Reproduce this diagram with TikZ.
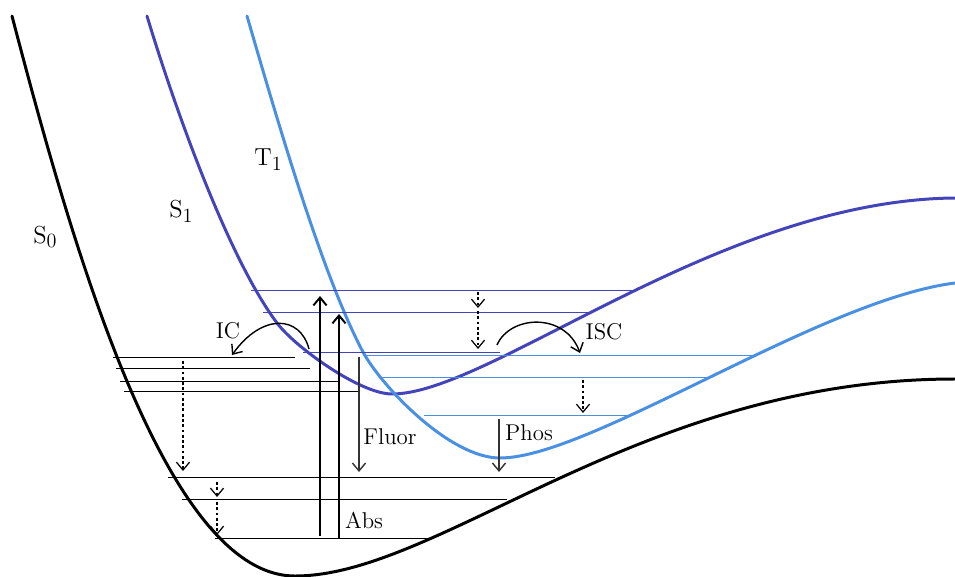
\documentclass[tikz,border=0pt]{standalone}
\usepackage{tikz}
\usetikzlibrary{arrows.meta}

\definecolor{singletblue}{RGB}{68,68,186}
\definecolor{tripletblue}{RGB}{74,144,226}

\newcommand{\statelab}[2]{#1\raisebox{-0.45ex}{\fontsize{11.5}{12}\selectfont #2}}

\begin{document}
\begin{tikzpicture}[
  x=0.02cm, y=-0.02cm,
  pes/.style={line width=1.7pt, line cap=round},
  lvl/.style={line width=0.5pt},
  arr/.style={-{Straight Barb[length=4.5pt, width=7.5pt]}},
  absarr/.style={arr, line width=1.1pt},
  emarr/.style={arr, line width=0.8pt, black!80},
  relax/.style={arr, line width=0.7pt, dash pattern=on 1.6pt off 1.4pt},
  lab/.style={font=\fontsize{13}{15}\selectfont, inner sep=1pt},
  statelabel/.style={font=\fontsize{14}{16}\selectfont, inner sep=1pt},
]
  \useasboundingbox (0,0) rectangle (955,577);

  % potential energy curves
  \draw[pes, black] (12,16) .. controls (72,245) and (165,576) .. (295,576)
    .. controls (440,576) and (640,379) .. (955,379);
  \draw[pes, singletblue] (147,16) .. controls (176,112) and (229,259) .. (277,323)
    .. controls (295,347) and (360,394) .. (392,394)
    .. controls (490,394) and (720,200) .. (955,198);
  \draw[pes, tripletblue] (247,16) .. controls (275,112) and (321,273) .. (363,352)
    .. controls (382,387) and (450,458) .. (500,458)
    .. controls (590,458) and (820,300) .. (955,283);

  % vibrational levels
  \foreach \ya/\xa/\xb in {357/113/295, 368/116/310, 381/120/338, 391/124/360,
                           477/168/555, 499/182/507, 538/215/430}
    \draw[lvl, black] (\xa,\ya) -- (\xb,\ya);
  \foreach \ya/\xa/\xb in {290/251/638, 312/263/592, 352/303/500}
    \draw[lvl, singletblue] (\xa,\ya) -- (\xb,\ya);
  \foreach \ya/\xa/\xb in {355/363/755, 377/382/710, 415/424/633}
    \draw[lvl, tripletblue] (\xa,\ya) -- (\xb,\ya);

  % radiative transitions
  \draw[absarr] (320,536) -- (320,296);
  \draw[absarr] (339,538) -- (339,314);
  \draw[emarr] (359,357) -- (359,472);
  \draw[emarr] (499,419) -- (499,472);

  % vibrational relaxation
  \draw[relax] (478,292) -- (478,308);
  \draw[relax] (478,311) -- (478,349);
  \draw[relax] (583,380) -- (583,413);
  \draw[relax] (183,361) -- (183,471);
  \draw[relax] (217,482) -- (217,497);
  \draw[relax] (217,502) -- (217,535);

  % crossings
  \draw[arr, line width=0.8pt] (309,349) .. controls (300,315) and (262,313) .. (232,355);
  \draw[arr, line width=0.8pt] (497,345) .. controls (510,315) and (565,312) .. (580,353);

  % labels
  \node[statelabel] (s0) at (45,237)  {\statelab{S}{0}};
  \node[statelabel] (s1) at (181,211) {\statelab{S}{1}};
  \node[statelabel] (t1) at (268,160) {\statelab{T}{1}};
  \node[lab] (ic)    at (228,331) {IC};
  \node[lab] (isc)   at (604,332) {ISC};
  \node[lab] (fluor) at (390,437) {Fluor};
  \node[lab] (phos)  at (529,433) {Phos};
  \node[lab] (abs)   at (364,520) {Abs};
\end{tikzpicture}
\end{document}
